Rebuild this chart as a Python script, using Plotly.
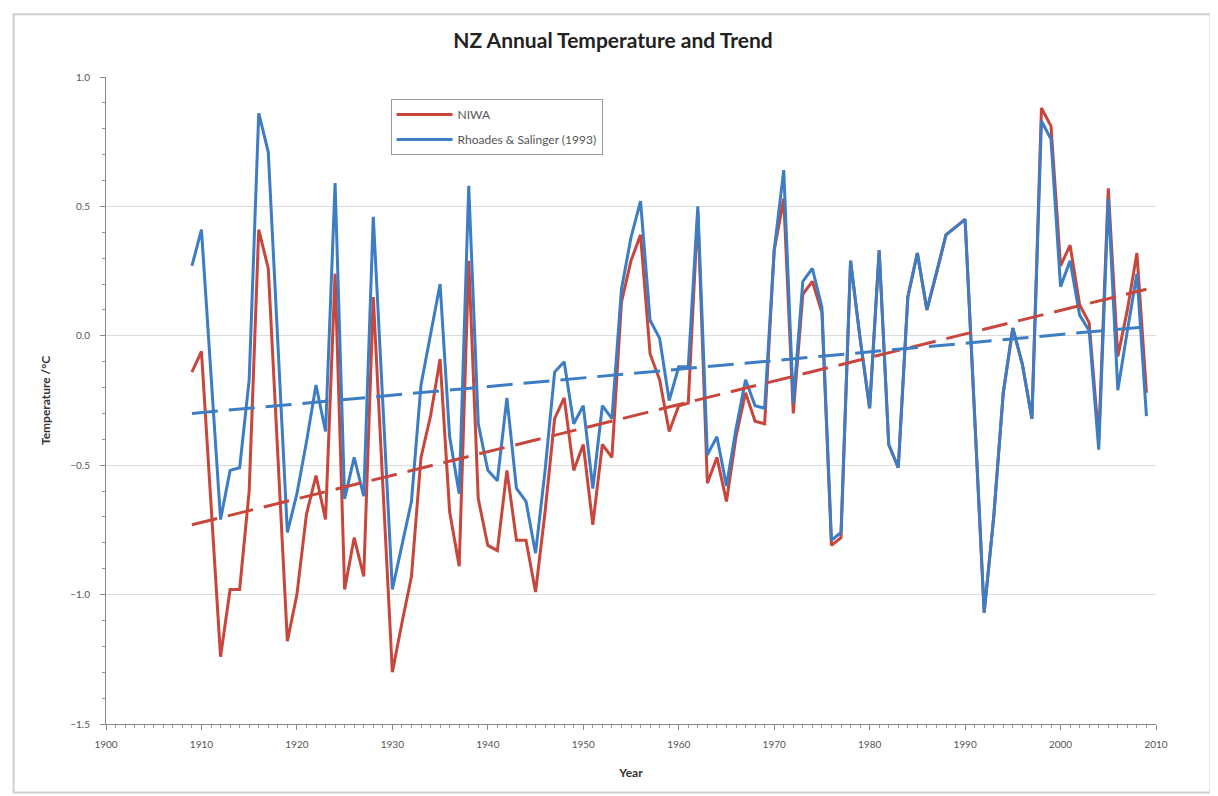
import plotly.graph_objects as go

years = list(range(1909, 2010))

niwa = [-0.14, -0.06, -0.65, -1.24, -0.98, -0.98, -0.60, 0.41, 0.26, -0.46,
        -1.18, -1.00, -0.69, -0.54, -0.71, 0.24, -0.98, -0.78, -0.93, 0.15,
        -0.58, -1.30, -1.11, -0.93, -0.47, -0.31, -0.09, -0.68, -0.89, 0.29,
        -0.63, -0.81, -0.83, -0.52, -0.79, -0.79, -0.99, -0.68, -0.32, -0.24,
        -0.52, -0.42, -0.73, -0.42, -0.47, 0.13, 0.29, 0.39, -0.07, -0.17,
        -0.37, -0.27, -0.26, 0.48, -0.57, -0.47, -0.64, -0.39, -0.22, -0.33,
        -0.34, 0.33, 0.53, -0.30, 0.16, 0.21, 0.09, -0.81, -0.78, 0.29,
        -0.01, -0.28, 0.33, -0.42, -0.51, 0.15, 0.32, 0.10, 0.24, 0.39,
        0.42, 0.45, -0.31, -1.07, -0.70, -0.22, 0.03, -0.11, -0.32, 0.88,
        0.81, 0.27, 0.35, 0.12, 0.05, -0.40, 0.57, -0.08, 0.10, 0.32,
        -0.22]

rhoades_salinger = [0.27, 0.41, -0.15, -0.71, -0.52, -0.51, -0.17, 0.86, 0.71, -0.02,
                    -0.76, -0.61, -0.41, -0.19, -0.37, 0.59, -0.63, -0.47, -0.62, 0.46,
                    -0.26, -0.98, -0.81, -0.64, -0.19, 0.00, 0.20, -0.39, -0.61, 0.58,
                    -0.34, -0.52, -0.56, -0.24, -0.59, -0.64, -0.84, -0.52, -0.14, -0.10,
                    -0.34, -0.27, -0.59, -0.27, -0.32, 0.18, 0.38, 0.52, 0.06, -0.01,
                    -0.25, -0.12, -0.12, 0.50, -0.46, -0.39, -0.58, -0.36, -0.17, -0.27,
                    -0.28, 0.33, 0.64, -0.26, 0.21, 0.26, 0.11, -0.79, -0.76, 0.29,
                    -0.01, -0.28, 0.33, -0.42, -0.51, 0.15, 0.32, 0.10, 0.24, 0.39,
                    0.42, 0.45, -0.31, -1.07, -0.70, -0.22, 0.03, -0.11, -0.32, 0.83,
                    0.76, 0.19, 0.29, 0.08, 0.02, -0.44, 0.53, -0.21, 0.02, 0.24,
                    -0.31]

trend_years = [1909, 2009]
niwa_trend = [-0.73, 0.18]
rs_trend = [-0.30, 0.035]

RED = "#C8463C"
BLUE = "#3C7DC4"
FONT = "Lato, 'Liberation Sans', sans-serif"

fig = go.Figure()
fig.add_trace(go.Scatter(x=years, y=niwa, mode="lines", name="NIWA",
                         legendgroup="a",
                         line=dict(color=RED, width=3)))
fig.add_trace(go.Scatter(x=years, y=rhoades_salinger, mode="lines",
                         name="Rhoades &amp; Salinger (1993)", legendgroup="b",
                         line=dict(color=BLUE, width=3)))
fig.add_trace(go.Scatter(x=trend_years, y=niwa_trend, mode="lines", showlegend=False,
                         line=dict(color=RED, width=3, dash="26px,11px")))
fig.add_trace(go.Scatter(x=trend_years, y=rs_trend, mode="lines", showlegend=False,
                         line=dict(color=BLUE, width=3, dash="26px,11px")))

W, H = 1210, 788
fig.update_layout(
    width=W, height=H,
    margin=dict(l=98, r=62, t=69, b=72),
    paper_bgcolor="white", plot_bgcolor="white",
    font=dict(family=FONT, size=10, color="#555555"),
    title=dict(text="<b>NZ Annual Temperature and Trend</b>", x=0.5, xanchor="center",
               y=0.959, yanchor="middle",
               font=dict(family=FONT, size=21, color="#222222")),
    legend=dict(x=0.271, y=0.966, xanchor="left", yanchor="top",
                bgcolor="white", bordercolor="#9a9a9a", borderwidth=1,
                font=dict(family=FONT, size=12, color="#555555"),
                itemwidth=56, tracegroupgap=6),
    showlegend=True,
    shapes=[dict(type="rect", xref="paper", yref="paper",
                 x0=-0.088, x1=1.052, y0=-0.106, y1=1.097,
                 line=dict(color="#cfcfcf", width=2), layer="below")],
)

fig.update_xaxes(range=[1900, 2010], dtick=10, tick0=1900,
                 showgrid=False, showline=True, linecolor="#888888", linewidth=1,
                 ticks="outside", ticklen=5, tickcolor="#888888",
                 minor=dict(dtick=1, ticks="outside", ticklen=3, tickcolor="#999999"),
                 tickfont=dict(size=10, color="#555555"), ticklabelstandoff=6,
                 title=dict(text="<b>Year</b>", font=dict(size=12, color="#333333"),
                            standoff=19),
                 zeroline=False)
fig.update_yaxes(range=[-1.5, 1.0], dtick=0.5, tick0=0, tickformat=".1f",
                 showgrid=True, gridcolor="#dcdcdc", gridwidth=1,
                 showline=True, linecolor="#888888", linewidth=1,
                 ticks="outside", ticklen=5, tickcolor="#888888",
                 minor=dict(dtick=0.1, ticks="outside", ticklen=3, tickcolor="#999999",
                            showgrid=False),
                 tickfont=dict(size=10, color="#555555"), ticklabelstandoff=8,
                 title=dict(text="<b>Temperature /°C</b>",
                            font=dict(size=12, color="#333333"), standoff=17),
                 zeroline=False)

fig.write_html("out.html")
